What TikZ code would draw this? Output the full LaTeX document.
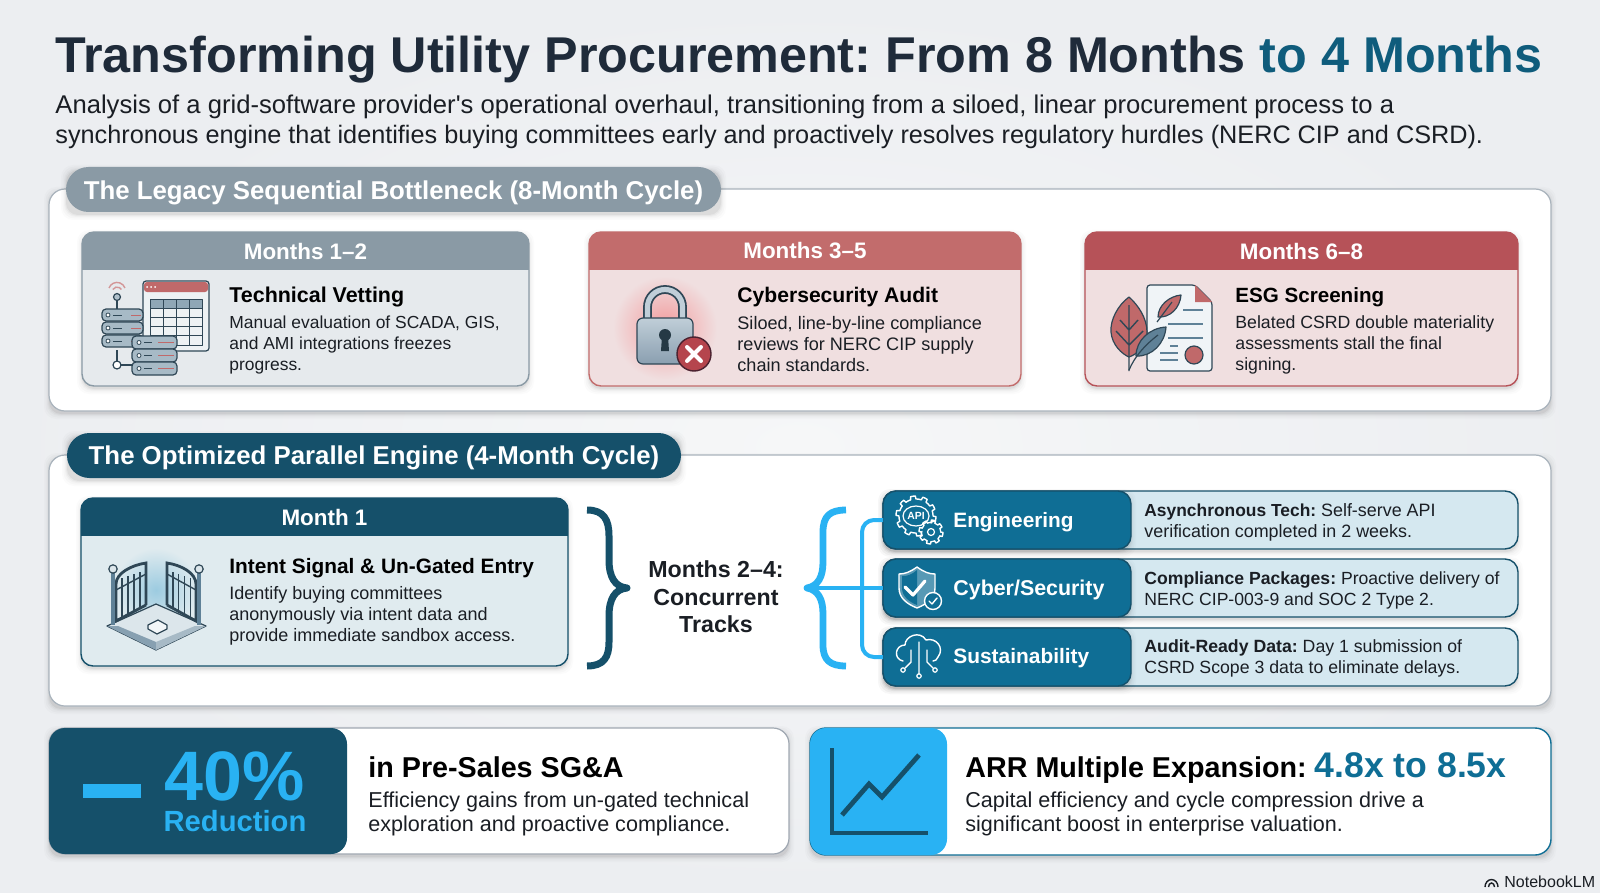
\documentclass[tikz,border=0pt]{standalone}
\usepackage{fontspec}
\setmainfont{Liberation Sans}
\newfontfamily\plainq{Liberation Sans}
\usetikzlibrary{calc}
\definecolor{ink}{HTML}{1A1E24}
\definecolor{titleink}{HTML}{1F2B3A}
\definecolor{teal}{HTML}{0F5C7C}
\definecolor{darkteal}{HTML}{15506A}
\definecolor{midblue}{HTML}{0F6E95}
\definecolor{sky}{HTML}{29B2F3}
\definecolor{slate}{HTML}{8A9AA5}
\definecolor{rosehead}{HTML}{C26C6C}
\definecolor{redhead}{HTML}{B65258}
\definecolor{graybody}{HTML}{E6EAED}
\definecolor{rosebody}{HTML}{F0DFE0}
\definecolor{tealbody}{HTML}{E0EBEF}
\definecolor{trackbody}{HTML}{D5E8F0}
\definecolor{iconink}{HTML}{2F4756}
\definecolor{iconblue}{HTML}{5F8197}
\definecolor{iconred}{HTML}{C0696A}
\definecolor{bgin}{HTML}{F6F7F8}
\definecolor{bgout}{HTML}{ECEEF1}
\definecolor{cardline}{HTML}{A9B3BC}
\definecolor{winfill}{HTML}{EDF2F4}
\definecolor{steelhi}{HTML}{C0CED8}
\definecolor{steello}{HTML}{8A9FB0}
\definecolor{xring}{HTML}{4A2230}
\definecolor{xfill}{HTML}{B5454D}
\definecolor{glow}{HTML}{F29A9C}
\definecolor{paper}{HTML}{F0F4F7}
\definecolor{floorc}{HTML}{DCE6EB}
\definecolor{floorb}{HTML}{F2F6F8}
\definecolor{dome}{HTML}{9CCBE0}
\definecolor{sgaline}{HTML}{A0A8B2}
\newcommand{\softshadow}[5]{%
  \foreach \d/\o in {5/0.015,3.5/0.02,2/0.025,1/0.03,0/0.05}{%
    \fill[black,opacity=\o,rounded corners=#5 pt] ({#1-\d},{#2-\d+3}) rectangle ({#3+\d},{#4+\d+3});}}
\newcommand{\panel}[6]{%
  \softshadow{#2}{#3}{#4}{#5}{6}%
  \pgfmathsetmacro\pw{(#4-#2)*0.5}\pgfmathsetmacro\ph{(#5-#3)*0.5}%
  \node[rectangle,inner sep=0pt,outer sep=0pt,minimum width=\pw pt,minimum height=\ph pt,#6] (#1) at ({(#2+#4)/2},{(#3+#5)/2}) {};}
\newcommand{\headbar}[7]{% name x1 y1 x2 y2 ybar colour
  \begin{scope}
    \clip[rounded corners=6pt] (#2,#3) rectangle (#4,#5);
    \fill[#7] (#2,#3) rectangle (#4,#6);
  \end{scope}
  \node[headtxt] (#1) at ({(#2+#4)/2},{(#3+#6)/2}) {\csname hd#1\endcsname};}
\newcommand{\gearicon}[5]{% cx cy r amp teeth
  \draw[white,line width=0.7pt,line join=round] plot[samples=181,domain=0:360,variable=\t]
    ({#1+(#3+#4*(sin(#5*\t)>0?1:0))*cos(\t)},{#2+(#3+#4*(sin(#5*\t)>0?1:0))*sin(\t)}) -- cycle;}
\tikzset{
  cardw/.style={draw=#1,line width=0.7pt,rounded corners=6pt},
  headtxt/.style={text=white,font=\fontsize{11.2}{13}\bfseries\selectfont,inner sep=0pt},
  cardtitle/.style={anchor=base west,inner sep=0pt,text=black,font=\fontsize{#1}{13}\bfseries\selectfont},
  bodytxt/.style={anchor=west,align=left,inner sep=0pt,text=ink,font=\fontsize{#1}{10.5}\selectfont},
  tracktxt/.style={anchor=west,align=left,inner sep=0pt,text=ink,font=\fontsize{#1}{10.6}\selectfont},
  tracklabel/.style={anchor=base west,inner sep=0pt,text=white,font=\fontsize{#1}{13}\bfseries\selectfont},
  pilltxt/.style={text=white,font=\fontsize{12.9}{15}\bfseries\selectfont,inner sep=0pt},
  bigtitle/.style={anchor=base west,inner sep=0pt,text=black,font=\fontsize{14.35}{16}\bfseries\selectfont},
  bigbody/.style={anchor=west,align=left,inner sep=0pt,text=ink,font=\fontsize{10.78}{12.1}\selectfont},
  icoln/.style={draw=iconink,line width=0.6pt,line join=round},
  whiteln/.style={draw=white,line width=0.7pt,line cap=round,line join=round},
}
\begin{document}
\frenchspacing
\begin{tikzpicture}[x=0.5pt,y=-0.5pt]
\useasboundingbox (0,0) rectangle (1600,893);
\shade[inner color=bgin,outer color=bgout] (0,0) rectangle (1600,893);

% ---------- title ----------
\node[anchor=base west,inner sep=0pt,font=\fontsize{25.15}{30}\bfseries\selectfont,text=titleink] (title) at (55,73)
  {Transforming Utility Procurement: From 8 Months \textcolor{teal}{to 4 Months}};
\node[anchor=west,align=left,inner sep=0pt,text=ink,font=\fontsize{12.63}{14.8}\selectfont] (subtitle) at (55,122)
  {{\fontsize{12.82}{14.8}\selectfont Analysis of a grid-software provider{\plainq'}s operational overhaul, transitioning from a siloed, linear procurement process to a}\\
   synchronous engine that identifies buying committees early and proactively resolves regulatory hurdles (NERC CIP and CSRD).};

% ---------- legacy section ----------
\panel{legacy}{49}{189}{1551}{411}{fill=white,draw=cardline,line width=0.6pt,rounded corners=8pt}
\panel{legacypill}{66}{167}{721}{212}{fill=slate,rounded corners=11.25pt}
\node[pilltxt] (legacytxt) at (393.5,193) {The Legacy Sequential Bottleneck (8-Month Cycle)};

\panel{c1}{82}{232}{529}{386}{fill=graybody,cardw=slate}
\def\hdhone{Months 1--2}
\headbar{hone}{82}{232}{529}{386}{270}{slate}
\node[cardtitle=10.72] (c1t) at (229,302) {Technical Vetting};
\node[bodytxt=8.72] (c1b) at (229,344.5) {Manual evaluation of SCADA, GIS,\\and AMI integrations freezes\\progress.};

\panel{c2}{589}{232}{1021}{386}{fill=rosebody,cardw=rosehead}
\def\hdhtwo{Months 3--5}
\headbar{htwo}{589}{232}{1021}{386}{270}{rosehead}
\node[cardtitle=10.56] (c2t) at (737,302) {Cybersecurity Audit};
\node[bodytxt=9.05] (c2b) at (737,344) {Siloed, line-by-line compliance\\reviews for NERC CIP supply\\chain standards.};

\panel{c3}{1085}{232}{1518}{386}{fill=rosebody,cardw=redhead}
\def\hdhthree{Months 6--8}
\headbar{hthree}{1085}{232}{1518}{386}{270}{redhead}
\node[cardtitle=10.3] (c3t) at (1235,302) {ESG Screening};
\node[bodytxt=8.85] (c3b) at (1235,344.5) {Belated CSRD double materiality\\assessments stall the final\\signing.};

% server / table icon
\draw[icoln,rounded corners=1.5pt,fill=winfill] (143,281) rectangle (209,351);
\fill[iconred,rounded corners=1.5pt] (144,282) rectangle (208,292);
\foreach \x in {147,151,155}{\fill[white] (\x,287) circle (1);}
\fill[iconblue!70] (150,299) rectangle (202,308);
\draw[icoln,line width=0.45pt] (150,299) rectangle (202,345);
\foreach \x in {163,176,189}{\draw[icoln,line width=0.45pt] (\x,299) -- (\x,345);}
\foreach \y in {308,317,326,335}{\draw[icoln,line width=0.45pt] (150,\y) -- (202,\y);}
\foreach \y in {309,322,335}{
  \draw[icoln,fill=iconblue!55,rounded corners=2pt] (102,\y) rectangle (143,{\y+12});
  \draw[icoln,line width=0.4pt,fill=white] (108,{\y+6}) circle (2);
  \draw[icoln,line width=0.5pt] (113,{\y+6}) -- (122,{\y+6});
  \draw[iconred,line width=0.5pt] (131,{\y+6}) -- (141,{\y+6});}
\foreach \y in {336,349,362}{
  \draw[icoln,fill=iconblue!55,rounded corners=2pt] (132,\y) rectangle (177,{\y+13});
  \draw[icoln,line width=0.4pt,fill=white] (139,{\y+6.5}) circle (2);
  \draw[icoln,line width=0.5pt] (144,{\y+6.5}) -- (152,{\y+6.5});
  \draw[iconred,line width=0.5pt] (158,{\y+6.5}) -- (174,{\y+6.5});}
\draw[icoln,fill=iconblue!50] (117,297) circle (3.5);
\draw[icoln] (117,300.5) -- (117,309);
\draw[iconred!70,line width=0.7pt] (112.8,289.5) arc[start angle=210,end angle=330,x radius=5,y radius=5];
\draw[iconred!70,line width=0.7pt] (109,288) arc[start angle=200,end angle=340,x radius=8.5,y radius=8.5];
\draw[icoln] (117,350) -- (117,361);
\draw[icoln,fill=white] (117,365) circle (4);
\draw[icoln] (121,365) -- (132,365);

% lock icon
\shade[inner color=glow,outer color=rosebody] (665,328) circle (52);
\draw[draw=iconink,line width=4.4pt] (647.5,320) -- (647.5,307) arc[start angle=180,end angle=360,x radius=17.5,y radius=17.5] -- (682.5,320);
\draw[draw=steelhi,line width=2.6pt] (647.5,320) -- (647.5,307) arc[start angle=180,end angle=360,x radius=17.5,y radius=17.5] -- (682.5,320);
\draw[icoln,top color=steelhi,bottom color=steello,rounded corners=3pt] (637,318) rectangle (693,364);
\fill[iconink!80!black] (665,335) circle (6);
\fill[iconink!80!black] (662,336) -- (668,336) -- (669,351) -- (661,351) -- cycle;
\draw[draw=xring,line width=0.7pt,fill=xfill] (694,354) circle (17);
\draw[white,line width=2pt,line cap=round] (687,347) -- (701,361) (701,347) -- (687,361);

% leaf + document icon
\draw[icoln,fill=paper,rounded corners=1.5pt] (1147,285) -- (1195,285) -- (1212,302) -- (1212,371) -- (1147,371) -- cycle;
\fill[iconred] (1195,285) -- (1212,302) -- (1195,302) -- cycle;
\foreach \a/\b/\y in {1183/1203/310,1168/1203/324,1168/1203/338,1188/1203/352}{\draw[iconblue,line width=0.7pt] (\a,\y) -- (\b,\y);}
\foreach \a/\b/\y in {1170/1178/346,1160/1178/353,1160/1178/360}{\draw[iconblue,line width=0.7pt] (\a,\y) -- (\b,\y);}
\draw[icoln,fill=iconred] (1194,355) circle (9);
\draw[icoln,fill=iconred] (1129,297) .. controls (1118,305) and (1110,320) .. (1111,332) .. controls (1112,345) and (1122,354) .. (1129,357) .. controls (1138,354) and (1147,345) .. (1147,332) .. controls (1147,318) and (1138,305) .. (1129,297) -- cycle;
\draw[iconink,line width=0.7pt] (1129,305) -- (1129,371) (1129,345) -- (1116,331) (1129,345) -- (1143,331) (1129,330) -- (1120,320) (1129,330) -- (1138,320);
\draw[icoln,fill=iconred] (1158,317) .. controls (1158,305) and (1170,296) .. (1181,295) .. controls (1180,308) and (1170,318) .. (1158,317) -- cycle;
\draw[iconink,line width=0.6pt] (1157,322) -- (1172,302);
\draw[icoln,fill=iconblue] (1136,356) .. controls (1136,340) and (1150,328) .. (1166,327) .. controls (1165,343) and (1152,357) .. (1136,356) -- cycle;
\draw[iconink,line width=0.6pt] (1129,370) .. controls (1135,356) and (1145,345) .. (1158,335);

% ---------- optimized section ----------
\panel{opt}{49}{455}{1551}{706}{fill=white,draw=cardline,line width=0.6pt,rounded corners=8pt}
\panel{optpill}{67}{433}{681}{478}{fill=darkteal,rounded corners=11.25pt}
\node[pilltxt] (opttxt) at (374,458) {The Optimized Parallel Engine (4-Month Cycle)};

\panel{m1}{81}{498}{568}{666}{fill=tealbody,cardw=darkteal}
\def\hdmone{Month 1}
\headbar{mone}{81}{498}{568}{666}{536}{darkteal}
\node[cardtitle=10.42] (m1t) at (229,573) {Intent Signal \& Un-Gated Entry};
\node[bodytxt=9.0] (m1b) at (229,615.5) {Identify buying committees\\anonymously via intent data and\\provide immediate sandbox access.};

% gate icon
\shade[inner color=dome,outer color=tealbody] (156,590) circle (42);
\fill[tealbody] (100,615) rectangle (210,660);
\draw[icoln,fill=floorc] (107,626) -- (156,604) -- (206,626) -- (156,650) -- cycle;
\fill[iconblue!75] (107,626) -- (156,650) -- (156,642) -- (118,626) -- cycle;
\fill[iconblue!55] (206,626) -- (156,650) -- (156,642) -- (195,626) -- cycle;
\draw[icoln,fill=floorb] (148,625) -- (158,620) -- (167,625) -- (167,629) -- (157,634) -- (148,629) -- cycle;
\foreach \m/\p/\e in {1/113/146,-1/199/167}{
  \draw[draw=iconink,line width=1.4pt] (\e,605) -- (\e,563) .. controls ({\e-\m*14},565) and ({\p+\m*3},573) .. ({\p+\m*3},584) -- ({\p+\m*3},621) -- (\e,605);
  \draw[draw=iconink,line width=0.7pt] ({\p+\m*3},590) -- (\e,574);
  \foreach \f in {0.2,0.4,0.6,0.8}{\draw[draw=iconink,line width=0.7pt] ({\p+\m*3+\f*(\e-\p-\m*3)},{580-\f*10}) -- ({\p+\m*3+\f*(\e-\p-\m*3)},{621-\f*16});}
  \draw[draw=iconblue,line width=2pt] (\p,572) -- (\p,625);
  \draw[icoln,fill=floorc] (\p,569) circle (4.2);
}

% dark brace
\draw[darkteal,line width=3.5pt,line join=round] (587,510) .. controls (604,510) and (609,520) .. (609,536) -- (609,560) .. controls (609,577) and (615,587) .. (627,588) .. controls (615,589) and (609,599) .. (609,616) -- (609,642) .. controls (609,657) and (604,666) .. (587,666);
\node[align=center,inner sep=0pt,text=ink,font=\fontsize{11.6}{13.8}\bfseries\selectfont] (tracks) at (716,597) {Months 2--4:\\Concurrent\\Tracks};

% tracks
\foreach \nm/\ya/\yb in {trk1/491/549,trk2/559/617,trk3/628/686}{
  \panel{\nm}{883}{\ya}{1518}{\yb}{fill=trackbody,draw=darkteal,line width=0.7pt,rounded corners=6.5pt}
}
\panel{d1}{883}{491}{1131}{549}{fill=midblue,draw=darkteal,line width=0.7pt,rounded corners=6.5pt}
\panel{d2}{883}{559}{1131}{617}{fill=midblue,draw=darkteal,line width=0.7pt,rounded corners=6.5pt}
\panel{d3}{883}{628}{1131}{686}{fill=midblue,draw=darkteal,line width=0.7pt,rounded corners=6.5pt}
\node[tracklabel=10.4] (l1) at (953,527) {Engineering};
\node[tracklabel=10.7] (l2) at (953,595.5) {Cyber/Security};
\node[tracklabel=10.45] (l3) at (953,663.5) {Sustainability};
\node[tracktxt=8.95] (t1) at (1144,522) {\textbf{\fontsize{8.7}{10.6}\selectfont Asynchronous Tech:} Self-serve API\\verification completed in 2 weeks.};
\node[tracktxt=8.8] (t2) at (1144,590.5) {\textbf{Compliance Packages:} Proactive delivery of\\NERC CIP-003-9 and SOC 2 Type 2.};
\node[tracktxt=8.85] (t3) at (1144,658.5) {\textbf{Audit-Ready Data:} Day 1 submission of\\CSRD Scope 3 data to eliminate delays.};

% sky brace + connectors
\draw[sky,line width=3.4pt,line join=round] (846,510) .. controls (830,510) and (823,516) .. (823,532) -- (823,562) .. controls (823,577) and (818,586) .. (807,588) .. controls (818,590) and (823,599) .. (823,614) -- (823,645) .. controls (823,660) and (830,666) .. (846,666);
\coordinate (bracetip) at (807,588);
\coordinate (fork) at (862,588);
\draw[sky,line width=2pt] (bracetip) -- (d2.west);
\draw[sky,line width=2pt,rounded corners=6pt] (fork) |- (d1.west);
\draw[sky,line width=2pt,rounded corners=6pt] (fork) |- (d3.west);

% api gears
\gearicon{916}{516}{17}{3}{10}
\gearicon{931}{532}{9.5}{2.5}{8}
\fill[midblue] (931,532) circle (8.6);
\draw[white,line width=0.6pt] (931,532) circle (3.5);
\draw[white,line width=0.6pt] (916,516) ellipse (13 and 10);
\node[inner sep=0pt,text=white,font=\fontsize{5.2}{6}\bfseries\selectfont] (apitxt) at (916,516) {API};

% shield
\draw[white,line width=0.7pt,fill=midblue!70!white,line join=round] (917,567) .. controls (910,572) and (905,574) .. (899,574) -- (899,588) .. controls (899,598) and (907,604) .. (917,608) .. controls (927,604) and (935,598) .. (935,588) -- (935,574) .. controls (929,574) and (924,572) .. (917,567) -- cycle;
\fill[midblue] (917,570) .. controls (911,575) and (908,576) .. (902,576) -- (902,588) .. controls (902,596) and (909,602) .. (917,605) -- cycle;
\draw[whiteln,line width=1.6pt] (905,587) -- (913,595) -- (925,581);
\draw[white,line width=0.7pt,fill=midblue] (933,601) circle (8.5);
\draw[whiteln,line width=0.7pt] (929,601) -- (932,604) -- (937,598);

% cloud with circuit
\draw[whiteln] (903,661) .. controls (893,659) and (895,645) .. (905,645) .. controls (905,636) and (920,630) .. (926,640) .. controls (936,637) and (945,648) .. (938,657) .. controls (937,660) and (935,661) .. (933,661);
\draw[whiteln] (919,642) -- (919,674) (911,650) -- (911,662) -- (905,668) (927,650) -- (927,662) -- (933,668);
\draw[white,line width=0.6pt] (919,676) circle (2.2) (903,670) circle (2.2) (935,670) circle (2.2);

% ---------- bottom cards ----------
\panel{sga}{49}{728}{789}{854}{fill=white,draw=sgaline,line width=0.6pt,rounded corners=8pt}
\node[rectangle,fill=darkteal,rounded corners=8pt,inner sep=0pt,minimum width=149pt,minimum height=63pt] (sgapanel) at (198,791) {};
\fill[sky] (83,784) rectangle (141,798);
\node[anchor=north,align=center,inner sep=0pt,text=sky,font=\fontsize{14.6}{15.5}\bfseries\selectfont] (pct) at (235,751) {{\fontsize{35}{35}\selectfont 40\%}\\Reduction};
\node[bigtitle] (sgat) at (368,777) {in Pre-Sales SG\&A};
\node[bigbody] (sgab) at (368,814) {Efficiency gains from un-gated technical\\exploration and proactive compliance.};

\panel{arr}{810}{728}{1551}{855}{fill=white,draw=midblue,line width=0.7pt,rounded corners=8pt}
\node[rectangle,fill=sky,rounded corners=8pt,inner sep=0pt,minimum width=68.5pt,minimum height=63.5pt] (arrpanel) at (878.5,791.5) {};
\draw[darkteal,line width=2pt] (832,748) -- (832,833) -- (928,833);
\draw[darkteal,line width=2.4pt] (842,815) -- (869,784) -- (882,797) -- (919,755);
\node[bigtitle] (arrt) at (965,777) {ARR Multiple Expansion: \textcolor{midblue}{\fontsize{17.8}{20}\selectfont 4.8x to 8.5x}};
\node[bigbody] (arrb) at (965,814) {Capital efficiency and cycle compression drive a\\significant boost in enterprise valuation.};

% ---------- brand ----------
\node[anchor=base west,inner sep=0pt,text=ink,font=\fontsize{8}{10}\selectfont] (brand) at (1504,887) {NotebookLM};
\draw[ink,line width=0.7pt] (1485,887) arc[start angle=180,end angle=360,x radius=6.5,y radius=7.5];
\draw[ink,line width=0.7pt] (1488.5,887) arc[start angle=180,end angle=360,x radius=3,y radius=4];

\end{tikzpicture}
\end{document}
